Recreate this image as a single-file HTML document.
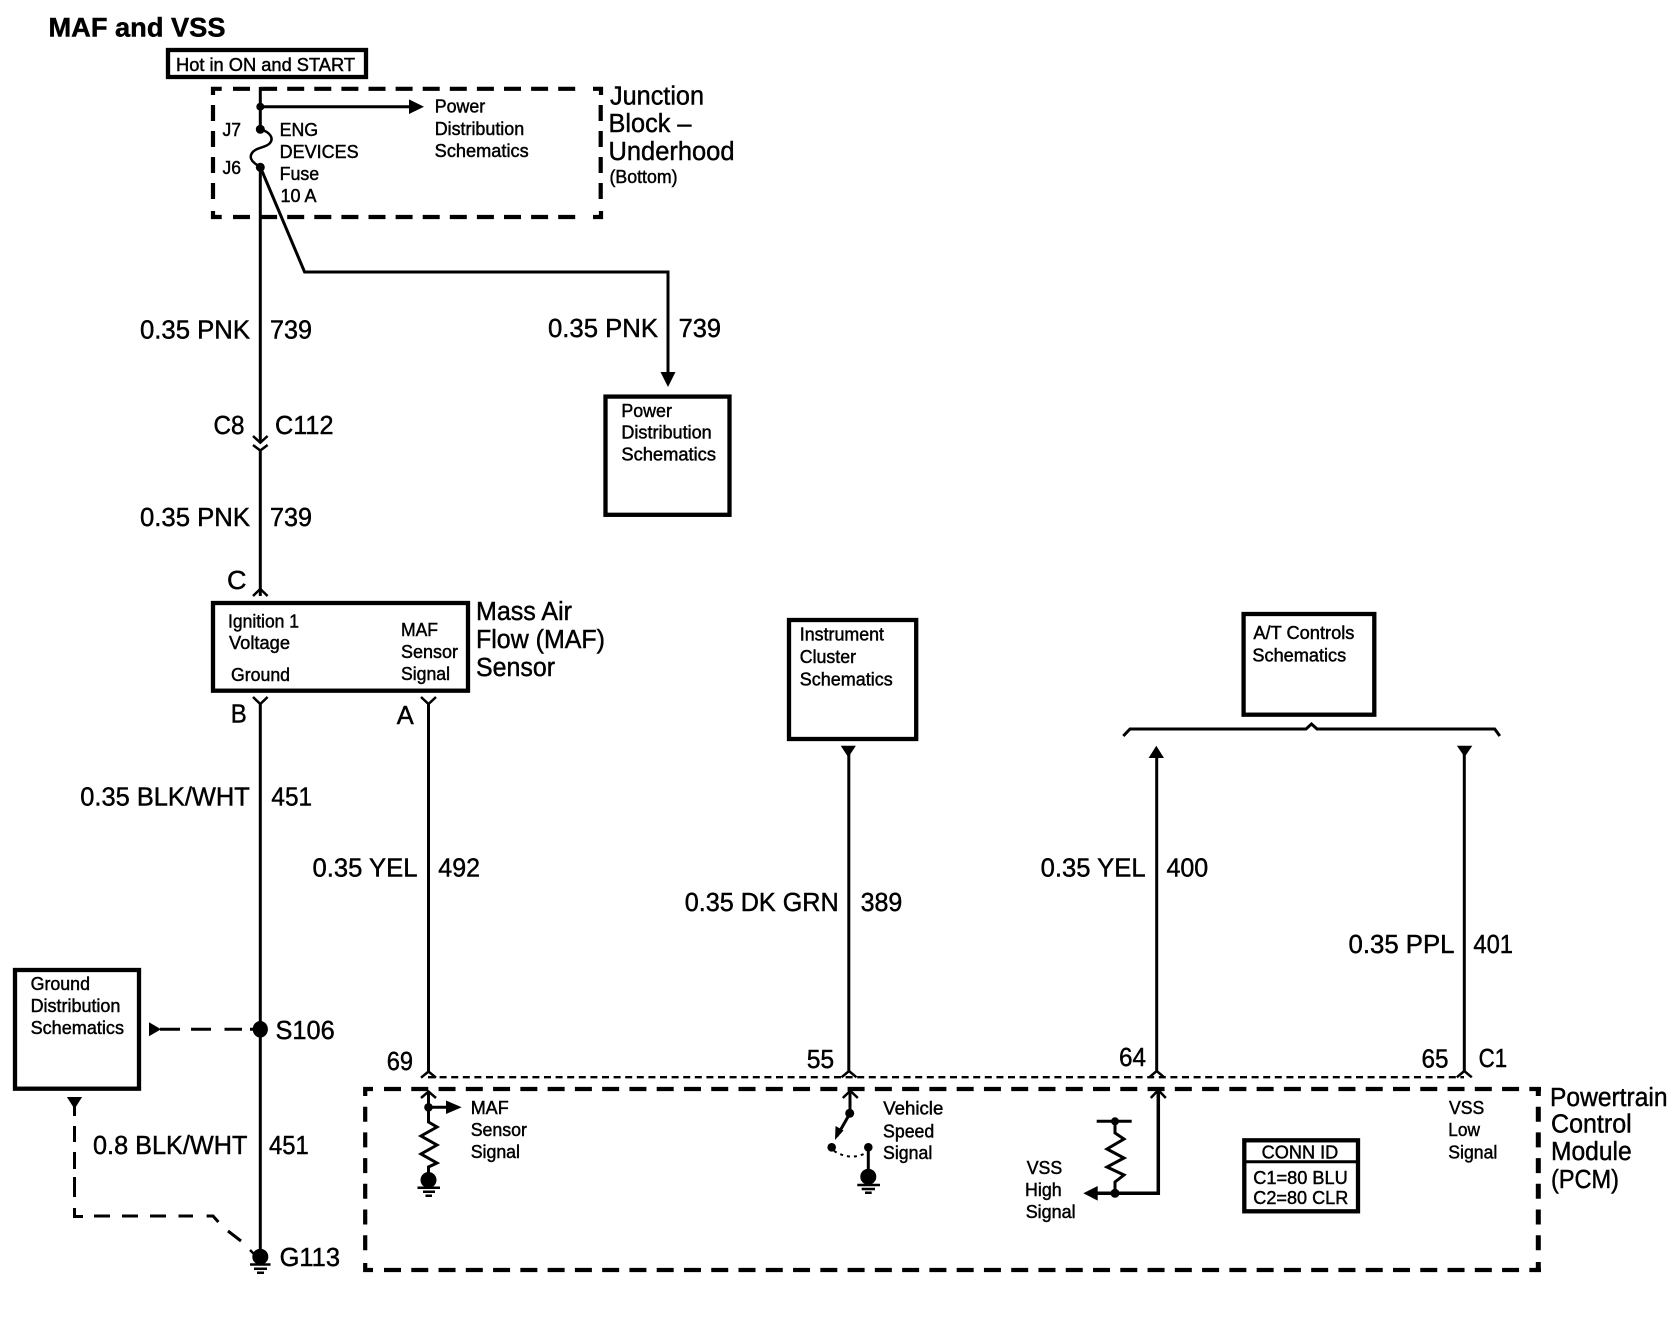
<!DOCTYPE html>
<html><head><meta charset="utf-8"><title>MAF and VSS</title>
<style>
html,body{margin:0;padding:0;background:#fff}
svg{display:block}
text{font-family:"Liberation Sans",sans-serif;fill:#000;stroke:#000;stroke-width:.45}
.s{font-size:18px}
.m{font-size:25.5px}
.l{fill:none;stroke:#000;stroke-width:3}
.b{fill:#fff;stroke:#000;stroke-width:4.3}
.d{fill:none;stroke:#000;stroke-width:4.2}
.c{fill:none;stroke:#000;stroke-width:2.5}
</style></head><body>
<svg width="1678" height="1328" viewBox="0 0 1678 1328" xmlns="http://www.w3.org/2000/svg">
<rect width="1678" height="1328" fill="#fff"/>

<!-- Title -->
<text x="48.5" y="36.4" font-size="27" font-weight="bold" textLength="177" lengthAdjust="spacingAndGlyphs">MAF and VSS</text>
<rect class="b" x="168" y="50" width="198" height="27"/>
<text class="s" x="176" y="71" textLength="179" lengthAdjust="spacingAndGlyphs">Hot in ON and START</text>

<!-- Junction block -->
<path class="d" d="M213,95 V88.8 H221.7 M213,211 V217 H221.7 M601,95 V88.8 H593 M601,211 V217 H593"/>
<path class="d" stroke-dasharray="17 10.1" d="M233,88.8 H585 M233,217 H585"/>
<path class="d" stroke-dasharray="16 10" d="M213,105 V200 M600.7,105 V200"/>
<path class="l" d="M260.3,87 V129"/>
<path class="l" d="M260.3,106.7 H410"/>
<polygon points="409,99.4 424,106.7 409,114"/>
<circle cx="260.3" cy="106.7" r="4"/>
<circle cx="260.3" cy="129.3" r="4.5"/>
<path class="c" d="M260.3,129.3 C270,132 274,138 270,143 C266,148 256,147 252,153 C248,159 254,163 260.3,167.3"/>
<circle cx="260.3" cy="167.3" r="4.5"/>
<path class="l" d="M260.3,167 V442"/>
<path class="l" d="M260.3,167 L304.6,272 H668 V373"/>
<polygon points="660.5,372 675.5,372 668,387"/>
<path class="l" d="M260.3,450 V596"/>
<path class="c" d="M253,436 L260.3,442.7 L267.6,436 M253,445 L260.3,450.5 L267.6,445"/>

<text class="s" x="222.5" y="136" textLength="18.5" lengthAdjust="spacingAndGlyphs">J7</text>
<text class="s" x="222.5" y="174" textLength="18.5" lengthAdjust="spacingAndGlyphs">J6</text>
<text class="s" x="279.6" y="136" textLength="38.5" lengthAdjust="spacingAndGlyphs">ENG</text>
<text class="s" x="279.6" y="158" textLength="79" lengthAdjust="spacingAndGlyphs">DEVICES</text>
<text class="s" x="279.6" y="180" textLength="39.5" lengthAdjust="spacingAndGlyphs">Fuse</text>
<text class="s" x="280.5" y="202" textLength="36" lengthAdjust="spacingAndGlyphs">10 A</text>
<text class="s" x="434.7" y="112.5" textLength="50.5" lengthAdjust="spacingAndGlyphs">Power</text>
<text class="s" x="434.7" y="135" textLength="89.5" lengthAdjust="spacingAndGlyphs">Distribution</text>
<text class="s" x="434.7" y="157" textLength="94" lengthAdjust="spacingAndGlyphs">Schematics</text>
<text class="m" x="610" y="104.6" textLength="94" lengthAdjust="spacingAndGlyphs">Junction</text>
<text class="m" x="608.5" y="132" textLength="83" lengthAdjust="spacingAndGlyphs">Block –</text>
<text class="m" x="608.5" y="160" textLength="126" lengthAdjust="spacingAndGlyphs">Underhood</text>
<text class="s" x="609.5" y="183" textLength="68" lengthAdjust="spacingAndGlyphs">(Bottom)</text>

<!-- Wire labels top -->
<text class="m" x="140" y="338.6" textLength="110" lengthAdjust="spacingAndGlyphs">0.35 PNK</text>
<text class="m" x="270" y="338.6" textLength="42" lengthAdjust="spacingAndGlyphs">739</text>
<text class="m" x="548" y="337" textLength="110" lengthAdjust="spacingAndGlyphs">0.35 PNK</text>
<text class="m" x="678.6" y="337" textLength="42.4" lengthAdjust="spacingAndGlyphs">739</text>
<text class="m" x="213.5" y="434" textLength="31" lengthAdjust="spacingAndGlyphs">C8</text>
<text class="m" x="275" y="434" textLength="58.5" lengthAdjust="spacingAndGlyphs">C112</text>
<text class="m" x="140" y="526" textLength="110" lengthAdjust="spacingAndGlyphs">0.35 PNK</text>
<text class="m" x="270" y="526" textLength="42" lengthAdjust="spacingAndGlyphs">739</text>

<!-- Power Distribution box -->
<rect class="b" x="605.5" y="396.6" width="124" height="118.2"/>
<text class="s" x="621.4" y="416.8" textLength="50.5" lengthAdjust="spacingAndGlyphs">Power</text>
<text class="s" x="621.4" y="438.6" textLength="90.3" lengthAdjust="spacingAndGlyphs">Distribution</text>
<text class="s" x="621.4" y="460.7" textLength="94.6" lengthAdjust="spacingAndGlyphs">Schematics</text>

<!-- MAF sensor -->
<text class="m" x="227" y="589" textLength="19.5" lengthAdjust="spacingAndGlyphs">C</text>
<path class="c" d="M253,596 L260.3,589 L267.6,596"/>
<rect class="b" x="213" y="603" width="255" height="87.7"/>
<text class="s" x="228" y="627.5" textLength="71" lengthAdjust="spacingAndGlyphs">Ignition 1</text>
<text class="s" x="229" y="649" textLength="61" lengthAdjust="spacingAndGlyphs">Voltage</text>
<text class="s" x="231" y="681" textLength="59" lengthAdjust="spacingAndGlyphs">Ground</text>
<text class="s" x="401" y="636" textLength="37" lengthAdjust="spacingAndGlyphs">MAF</text>
<text class="s" x="401" y="658" textLength="57" lengthAdjust="spacingAndGlyphs">Sensor</text>
<text class="s" x="401" y="680" textLength="49" lengthAdjust="spacingAndGlyphs">Signal</text>
<text class="m" x="476" y="620" textLength="96" lengthAdjust="spacingAndGlyphs">Mass Air</text>
<text class="m" x="476" y="648" textLength="129" lengthAdjust="spacingAndGlyphs">Flow (MAF)</text>
<text class="m" x="476" y="676" textLength="79" lengthAdjust="spacingAndGlyphs">Sensor</text>
<text class="m" x="230.7" y="722.7" textLength="16" lengthAdjust="spacingAndGlyphs">B</text>
<text class="m" x="396.7" y="724" textLength="17" lengthAdjust="spacingAndGlyphs">A</text>
<path class="c" d="M253,697 L260.3,704 L267.6,697 M421,697 L428.5,704 L436,697"/>
<path class="l" d="M260.3,704 V1256"/>
<path class="l" d="M428.5,704 V1072"/>

<!-- Mid labels -->
<text class="m" x="80.3" y="805.5" textLength="169.5" lengthAdjust="spacingAndGlyphs">0.35 BLK/WHT</text>
<text class="m" x="271.4" y="805.5" textLength="40.7" lengthAdjust="spacingAndGlyphs">451</text>
<text class="m" x="312.5" y="876.6" textLength="105" lengthAdjust="spacingAndGlyphs">0.35 YEL</text>
<text class="m" x="438.3" y="876.6" textLength="41.7" lengthAdjust="spacingAndGlyphs">492</text>
<text class="m" x="684.7" y="911.2" textLength="154" lengthAdjust="spacingAndGlyphs">0.35 DK GRN</text>
<text class="m" x="860.6" y="911.2" textLength="41.7" lengthAdjust="spacingAndGlyphs">389</text>
<text class="m" x="1040.6" y="876.5" textLength="105" lengthAdjust="spacingAndGlyphs">0.35 YEL</text>
<text class="m" x="1166.5" y="876.5" textLength="41.7" lengthAdjust="spacingAndGlyphs">400</text>
<text class="m" x="1348.5" y="953.2" textLength="106" lengthAdjust="spacingAndGlyphs">0.35 PPL</text>
<text class="m" x="1473.4" y="953.2" textLength="39.6" lengthAdjust="spacingAndGlyphs">401</text>

<!-- Instrument cluster -->
<rect class="b" x="789" y="620" width="127.2" height="119"/>
<text class="s" x="799.8" y="640.7" textLength="84.2" lengthAdjust="spacingAndGlyphs">Instrument</text>
<text class="s" x="799.8" y="663" textLength="56.2" lengthAdjust="spacingAndGlyphs">Cluster</text>
<text class="s" x="799.8" y="685.7" textLength="92.9" lengthAdjust="spacingAndGlyphs">Schematics</text>
<polygon points="840.7,745.7 855.9,745.7 848.3,757.3"/>
<path class="l" d="M848.8,750 V1071"/>

<!-- A/T controls -->
<rect class="b" x="1243.6" y="614" width="130.7" height="100.7"/>
<text class="s" x="1253.4" y="639" textLength="101" lengthAdjust="spacingAndGlyphs">A/T Controls</text>
<text class="s" x="1252.4" y="661.7" textLength="93.8" lengthAdjust="spacingAndGlyphs">Schematics</text>
<path class="l" d="M1123.3,736 L1130,729 H1306 L1311.5,724 L1317,729 H1494.7 L1499.8,736"/>
<polygon points="1148.6,758 1164,758 1156.3,745.7"/>
<path class="l" d="M1156.7,752 V1071"/>
<polygon points="1456.9,745.7 1472.3,745.7 1464.6,757"/>
<path class="l" d="M1464.3,750 V1071"/>

<!-- Ground distribution -->
<rect class="b" x="15" y="970" width="124" height="118.7"/>
<text class="s" x="30.6" y="990" textLength="59.4" lengthAdjust="spacingAndGlyphs">Ground</text>
<text class="s" x="30.6" y="1012" textLength="89.8" lengthAdjust="spacingAndGlyphs">Distribution</text>
<text class="s" x="30.6" y="1034" textLength="93.4" lengthAdjust="spacingAndGlyphs">Schematics</text>
<polygon points="149,1022.3 149,1036.3 161,1029.3"/>
<path class="l" d="M160,1029.3 H180 M191,1029.3 H211 M224.5,1029.3 H242 M250,1029.3 H260"/>
<ellipse cx="260.3" cy="1029.3" rx="7.6" ry="8.3"/>
<text class="m" x="275.5" y="1039" textLength="59.2" lengthAdjust="spacingAndGlyphs">S106</text>
<polygon points="66.9,1097 82.1,1097 74.5,1109"/>
<path class="l" d="M74.5,1105 V1116 M74.5,1126 V1142 M74.5,1152 V1169 M74.5,1177 V1197 M74.5,1208 V1216.5 H83 M94,1216 H110 M122,1216 H138 M150,1216 H166 M178.5,1216 H193 M206.6,1216 H213 L218.4,1222 M228,1231 L241,1241"/>
<text class="m" x="93" y="1154" textLength="154.4" lengthAdjust="spacingAndGlyphs">0.8 BLK/WHT</text>
<text class="m" x="269" y="1154" textLength="39.7" lengthAdjust="spacingAndGlyphs">451</text>

<!-- G113 -->
<path class="c" d="M250,1250 L255,1255"/>
<ellipse cx="260.3" cy="1256.7" rx="8" ry="8"/>
<path class="c" d="M250,1264.5 H270.5 M254,1268.7 H267 M257,1272.8 H264"/>
<text class="m" x="279.6" y="1266" textLength="60.4" lengthAdjust="spacingAndGlyphs">G113</text>

<!-- Connector C1 -->
<path d="M428,1077.2 H1464" fill="none" stroke="#000" stroke-width="2.3" stroke-dasharray="7 4.6"/>
<path class="c" d="M421,1077.7 L428.5,1071.5 L436,1077.7 M841.5,1077.3 L849,1071 L856.5,1077.3 M1149.2,1077.3 L1156.7,1071 L1164.2,1077.3 M1456.8,1077.3 L1464.3,1071 L1471.8,1077.3"/>
<text class="m" x="386.7" y="1070" textLength="26.3" lengthAdjust="spacingAndGlyphs">69</text>
<text class="m" x="806.7" y="1068" textLength="27.5" lengthAdjust="spacingAndGlyphs">55</text>
<text class="m" x="1119" y="1066" textLength="27" lengthAdjust="spacingAndGlyphs">64</text>
<text class="m" x="1421.5" y="1067.7" textLength="27" lengthAdjust="spacingAndGlyphs">65</text>
<text class="m" x="1478.6" y="1067" textLength="28.5" lengthAdjust="spacingAndGlyphs">C1</text>

<!-- PCM -->
<path class="d" d="M365.2,1096 V1089 H373 M365.2,1263 V1270 H373"/>
<path class="d" stroke-dasharray="17 10.27" d="M384,1089 H1541 M384,1270 H1541"/>
<path class="d" stroke-width="5" stroke-dasharray="15 10.7" d="M365.2,1106.7 V1253"/>
<path fill="none" stroke="#000" stroke-width="5" stroke-dasharray="15 10.7" d="M1538.3,1087 V1096 M1538.3,1106.7 V1253 M1538.3,1262 V1272"/>
<text class="m" x="1550" y="1106" textLength="117.5" lengthAdjust="spacingAndGlyphs">Powertrain</text>
<text class="m" x="1551" y="1132.7" textLength="80.7" lengthAdjust="spacingAndGlyphs">Control</text>
<text class="m" x="1551" y="1160" textLength="80.7" lengthAdjust="spacingAndGlyphs">Module</text>
<text class="m" x="1551" y="1188" textLength="68" lengthAdjust="spacingAndGlyphs">(PCM)</text>

<!-- MAF internal -->
<path class="c" d="M421,1098 L428.5,1091.5 L436,1098"/>
<path class="l" d="M428.5,1091 V1122 L437,1127 L421,1136 L437,1145 L421,1154 L437,1163 L428.5,1167 V1178"/>
<circle cx="428.5" cy="1107.3" r="4.3"/>
<path class="l" d="M428.5,1107.3 H448"/>
<polygon points="446,1100.5 461.7,1107.3 446,1114"/>
<ellipse cx="428.5" cy="1180" rx="8" ry="8"/>
<path class="c" d="M417.5,1187.7 H440 M423,1191.8 H435 M425.5,1195.8 H432"/>
<text class="s" x="470.7" y="1114" textLength="38" lengthAdjust="spacingAndGlyphs">MAF</text>
<text class="s" x="470.7" y="1136" textLength="56.3" lengthAdjust="spacingAndGlyphs">Sensor</text>
<text class="s" x="470.7" y="1158" textLength="49.3" lengthAdjust="spacingAndGlyphs">Signal</text>

<!-- VSS internal switch -->
<path class="c" d="M842.8,1098 L850.3,1090.7 L857.8,1098"/>
<path class="l" d="M850,1091 V1113.3 L837,1136"/>
<circle cx="849.7" cy="1113.3" r="4.5"/>
<polygon points="835,1140 835.5,1126 843.5,1130.5"/>
<circle cx="831.7" cy="1147.3" r="4.3"/>
<circle cx="868.3" cy="1147.3" r="4.3"/>
<path d="M834,1151 Q850,1161 866,1153" fill="none" stroke="#000" stroke-width="2" stroke-dasharray="3 4"/>
<path class="l" d="M868.3,1147 V1172"/>
<ellipse cx="868.3" cy="1176.7" rx="8" ry="8"/>
<path class="c" d="M857.3,1185 H880 M861.7,1189 H875 M865,1192.8 H871.7"/>
<text class="s" x="883.3" y="1114.3" textLength="60" lengthAdjust="spacingAndGlyphs">Vehicle</text>
<text class="s" x="883" y="1137.3" textLength="51.3" lengthAdjust="spacingAndGlyphs">Speed</text>
<text class="s" x="883" y="1159" textLength="49.3" lengthAdjust="spacingAndGlyphs">Signal</text>

<!-- VSS high -->
<path class="c" d="M1150.8,1098 L1158.3,1090 L1165.8,1098"/>
<path d="M1158.3,1090 V1193.3 H1095" fill="none" stroke="#000" stroke-width="3.5"/>
<polygon points="1083.3,1193.3 1097.7,1186 1097.7,1200.6"/>
<circle cx="1115" cy="1193.3" r="4.5"/>
<path class="l" d="M1096.7,1121.3 H1131.7"/>
<circle cx="1115" cy="1121.3" r="4"/>
<path class="l" d="M1115,1121 V1133 L1124,1139 L1107,1149 L1124,1158 L1107,1167 L1124,1175 L1115,1182 V1193"/>
<text class="s" x="1026.7" y="1174" textLength="35.6" lengthAdjust="spacingAndGlyphs">VSS</text>
<text class="s" x="1025" y="1196" textLength="36.7" lengthAdjust="spacingAndGlyphs">High</text>
<text class="s" x="1025.7" y="1218" textLength="50" lengthAdjust="spacingAndGlyphs">Signal</text>

<!-- VSS low -->
<text class="s" x="1449" y="1114" textLength="35.3" lengthAdjust="spacingAndGlyphs">VSS</text>
<text class="s" x="1448.3" y="1136" textLength="31.7" lengthAdjust="spacingAndGlyphs">Low</text>
<text class="s" x="1448.3" y="1158.3" textLength="49" lengthAdjust="spacingAndGlyphs">Signal</text>

<!-- CONN ID -->
<rect class="b" x="1244.3" y="1140.3" width="113.7" height="71"/>
<path class="l" d="M1244.3,1161.7 H1358"/>
<text class="s" x="1261.7" y="1158.3" textLength="76.6" lengthAdjust="spacingAndGlyphs">CONN ID</text>
<text class="s" x="1253.3" y="1184" textLength="94.4" lengthAdjust="spacingAndGlyphs">C1=80 BLU</text>
<text class="s" x="1253.3" y="1204" textLength="95" lengthAdjust="spacingAndGlyphs">C2=80 CLR</text>
</svg>
</body></html>
